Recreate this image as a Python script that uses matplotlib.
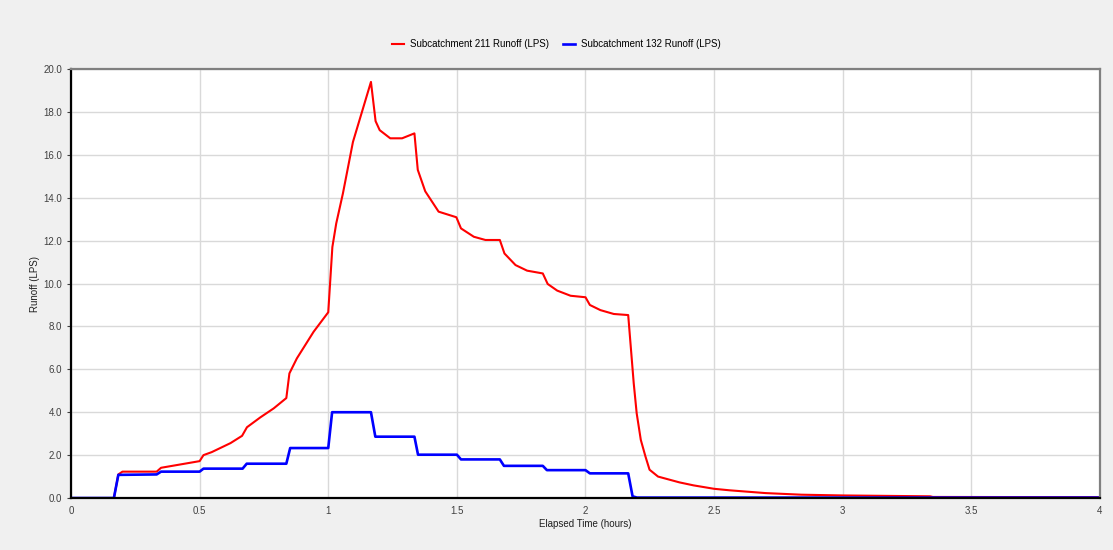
import matplotlib.pyplot as plt
from matplotlib.ticker import FormatStrFormatter

# runoff readings (hours, LPS)
red_t = [0, 0.1667, 0.184, 0.2, 0.333, 0.35, 0.5, 0.515, 0.547, 0.62, 0.665, 0.684,
         0.736, 0.788, 0.837, 0.849, 0.878, 0.943, 1.0, 1.016, 1.031, 1.057, 1.096,
         1.166, 1.184, 1.2, 1.241, 1.287, 1.335, 1.348, 1.377, 1.429, 1.498, 1.516,
         1.566, 1.611, 1.667, 1.685, 1.728, 1.773, 1.834, 1.853, 1.89, 1.942, 2.0,
         2.017, 2.058, 2.11, 2.166, 2.1875, 2.199, 2.215, 2.233, 2.249, 2.282, 2.365,
         2.42, 2.5, 2.56, 2.7, 2.84, 3.0, 3.34, 3.35, 4.0]
red_v = [0, 0, 1.1, 1.23, 1.23, 1.41, 1.72, 2.0, 2.14, 2.56, 2.9, 3.3,
         3.76, 4.18, 4.66, 5.81, 6.51, 7.75, 8.66, 11.7, 12.8, 14.2, 16.6,
         19.4, 17.57, 17.15, 16.77, 16.77, 17.0, 15.3, 14.3, 13.35, 13.09, 12.57,
         12.18, 12.03, 12.03, 11.4, 10.86, 10.6, 10.47, 9.98, 9.67, 9.43, 9.36,
         9.0, 8.76, 8.58, 8.53, 5.35, 3.95, 2.71, 1.94, 1.32, 1.0, 0.73,
         0.59, 0.43, 0.36, 0.23, 0.155, 0.12, 0.08, 0.05, 0.04]

blue_t = [0, 0.1667, 0.184, 0.333, 0.35, 0.5, 0.515, 0.667, 0.683, 0.837, 0.852,
          1.0, 1.015, 1.166, 1.183, 1.335, 1.349, 1.5, 1.516, 1.667, 1.683, 1.834,
          1.85, 2.0, 2.017, 2.166, 2.183, 2.2, 4.0]
blue_v = [0, 0, 1.08, 1.1, 1.23, 1.23, 1.37, 1.37, 1.6, 1.6, 2.33,
          2.33, 4.0, 4.0, 2.86, 2.86, 2.02, 2.02, 1.8, 1.8, 1.5, 1.5,
          1.3, 1.3, 1.15, 1.15, 0.08, 0.02, 0.02]

plt.rcParams['font.family'] = ['Liberation Sans', 'DejaVu Sans']

fig = plt.figure(figsize=(11.13, 5.5), dpi=100, facecolor='#f0f0f0')
ax = fig.add_axes([0.0638, 0.0945, 0.9245, 0.78])
ax.set_facecolor('white')

ax.plot(red_t, red_v, color='#ff0000', lw=1.5, label='Subcatchment 211 Runoff (LPS)')
ax.plot(blue_t, blue_v, color='#0000ff', lw=1.9, label='Subcatchment 132 Runoff (LPS)')

ax.set_xlim(0, 4)
ax.set_ylim(0, 20)
ax.set_xticks([0, 0.5, 1, 1.5, 2, 2.5, 3, 3.5, 4])
ax.set_xticklabels(['0', '0.5', '1', '1.5', '2', '2.5', '3', '3.5', '4'])
ax.set_yticks(range(0, 21, 2))
ax.yaxis.set_major_formatter(FormatStrFormatter('%.1f'))
ax.tick_params(labelsize=7, colors='#404040', length=3, width=0.8)
ax.tick_params(axis='x', length=0, pad=6)
ax.grid(True, color='#d9d9d9', lw=1.0)
ax.set_axisbelow(True)

for s in ['left', 'bottom']:
    ax.spines[s].set_color('black')
    ax.spines[s].set_linewidth(1.6)
for s in ['top', 'right']:
    ax.spines[s].set_color('#808080')
    ax.spines[s].set_linewidth(1.6)

ax.set_xlabel('Elapsed Time (hours)', fontsize=7, color='#202020', labelpad=2)
ax.set_ylabel('Runoff (LPS)', fontsize=7, color='#202020', labelpad=2)

fig.legend(loc='upper center', bbox_to_anchor=(0.5, 0.945), ncol=2, frameon=False,
           fontsize=7, handlelength=1.2, columnspacing=1.5, handletextpad=0.6)

fig.savefig('out.png', dpi=100, facecolor=fig.get_facecolor())
